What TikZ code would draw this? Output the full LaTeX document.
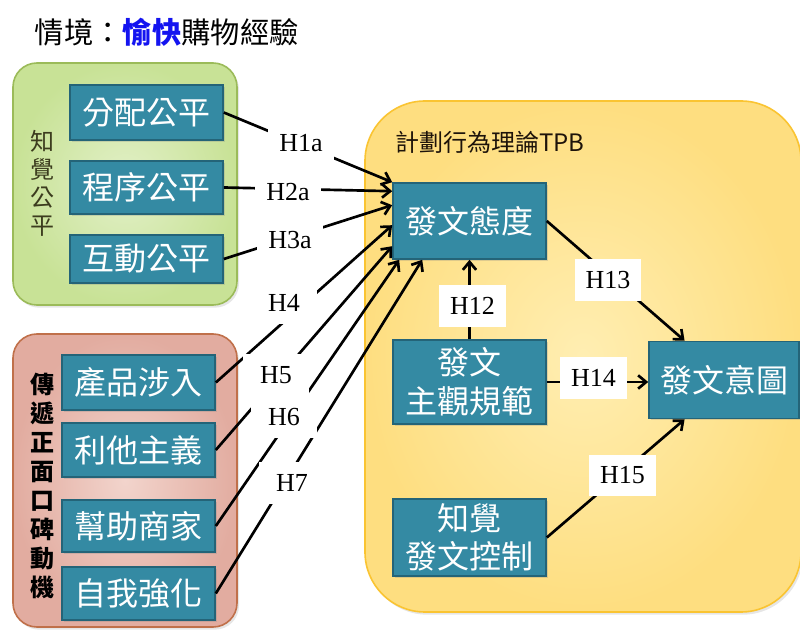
\documentclass[tikz,border=0pt]{standalone}
\usepackage{fontspec}
\setmainfont{Liberation Serif}
\newfontfamily\cjk{Noto Sans CJK TC}
\usetikzlibrary{arrows.meta,shadows,calc}
\definecolor{boxteal}{RGB}{52,138,163}
\definecolor{boxedge}{RGB}{36,100,120}
\definecolor{greenedge}{RGB}{155,187,89}
\definecolor{greenin}{RGB}{226,240,200}
\definecolor{greenout}{RGB}{200,226,150}
\definecolor{rededge}{RGB}{192,112,74}
\definecolor{redin}{RGB}{242,212,204}
\definecolor{redout}{RGB}{226,172,160}
\definecolor{yellowedge}{RGB}{250,196,50}
\definecolor{yellowin}{RGB}{255,238,178}
\definecolor{yellowout}{RGB}{254,222,128}
\definecolor{titleblue}{RGB}{20,20,240}
\definecolor{olivetext}{RGB}{60,60,30}
\begin{document}
\begin{tikzpicture}[x=0.75pt,y=-0.75pt,
  inbox/.style={draw=boxedge, line width=1.2pt, fill=boxteal, text=white,
    font=\cjk\fontsize{24}{29}\selectfont, align=center, inner sep=0pt,
    minimum width=114.75pt,
    drop shadow={opacity=0.25,shadow xshift=1.5pt,shadow yshift=-1.5pt}},
  hlab/.style={fill=white, font=\fontsize{19.5}{22}\selectfont,
    minimum width=50pt, minimum height=31pt, inner sep=0pt},
  conn/.style={line width=2pt, -{Straight Barb[length=6pt,width=10pt]}},
  vlab/.style={align=center, inner sep=0pt},
  container/.style={line width=1.2pt,
    drop shadow={opacity=0.2,shadow xshift=1.5pt,shadow yshift=-2pt}}
]
\useasboundingbox (0,0) rectangle (800,630);

% title
\node[anchor=west, font=\cjk\fontsize{22}{26}\selectfont] (title) at (30,32)
  {情境：{\color{titleblue}\bfseries 愉快}購物經驗};

% containers
\path[container, draw=greenedge, inner color=greenin, outer color=greenout,
  rounded corners=18pt] (13,63) rectangle (237,305);
\path[container, draw=rededge, inner color=redin, outer color=redout,
  rounded corners=18pt] (13,334) rectangle (237,627);
\path[container, draw=yellowedge, inner color=yellowin, outer color=yellowout,
  rounded corners=45pt] (365,101) rectangle (801,612);

% group labels
\node[vlab, text=olivetext, font=\cjk\fontsize{18}{21}\selectfont] (gl) at (43,183.5)
  {知\\覺\\公\\平};
\node[vlab, text=black, font=\cjk\bfseries\fontsize{18}{21.7}\selectfont] (rl) at (43,486)
  {傳\\遞\\正\\面\\口\\碑\\動\\機};
\node[anchor=west, inner sep=0pt, text=black!85!brown,
  font=\cjk\fontsize{18}{22}\selectfont] (tpb) at (395,142) {計劃行為理論TPB};

% left boxes
\node[inbox, minimum height=41.25pt] (dist) at (146.5,112.5) {分配公平};
\node[inbox, minimum height=39.75pt] (proc) at (146.5,187.5) {程序公平};
\node[inbox, minimum height=36pt]    (inter) at (146.5,259) {互動公平};
\node[inbox, minimum height=41.25pt] (prod) at (138.5,382.5) {產品涉入};
\node[inbox, minimum height=40.5pt]  (altr) at (138.5,450) {利他主義};
\node[inbox, minimum height=39pt]    (help) at (138.5,526) {幫助商家};
\node[inbox, minimum height=39.75pt] (self) at (138.5,593.5) {自我強化};

% TPB boxes
\node[inbox, minimum height=57pt] (att) at (469.5,221) {發文態度};
\node[inbox, minimum height=63pt] (norm) at (469.5,382) {發文\\主觀規範};
\node[inbox, minimum height=57.75pt] (ctrl) at (469.5,537.5) {知覺\\發文控制};
\node[inbox, minimum width=112.5pt, minimum height=57.75pt] (int) at (724,380) {發文意圖};

% connectors into attitude
\draw[conn] (dist.east) -- (att.north west);
\draw[conn] (proc.east) -- ([yshift=-6.75pt]att.north west);
\draw[conn] (inter.east) -- ([yshift=-17.25pt]att.north west);
\draw[conn] (prod.east) -- ([yshift=-32.25pt]att.north west);
\draw[conn] (altr.east) -- ([yshift=-48pt]att.north west);
\draw[conn] (help.east) -- ([xshift=5.25pt]att.south west);
\draw[conn] (self.east) -- ([xshift=22.5pt]att.south west);

% TPB connectors
\draw[conn] (norm.north) -- (att.south);
\draw[conn] (att.east) -- ($(int.north west)!0.24!(int.north east)$);
\draw[conn] (norm.east) -- (norm.east -| int.west);
\draw[conn] (ctrl.east) -- ($(int.south west)!0.24!(int.south east)$);

% hypothesis labels
\node[hlab] (h1a) at (301,143) {H1a};
\node[hlab] (h2a) at (288,192) {H2a};
\node[hlab] (h3a) at (290,240) {H3a};
\node[hlab] (h4) at (284,303) {H4};
\node[hlab] (h5) at (276,375) {H5};
\node[hlab] (h6) at (284,417) {H6};
\node[hlab] (h7) at (292,483) {H7};
\node[hlab] (h12) at (472.5,306) {H12};
\node[hlab] (h13) at (608,280) {H13};
\node[hlab] (h14) at (593.5,378) {H14};
\node[hlab] (h15) at (622.5,475.5) {H15};
\end{tikzpicture}
\end{document}
